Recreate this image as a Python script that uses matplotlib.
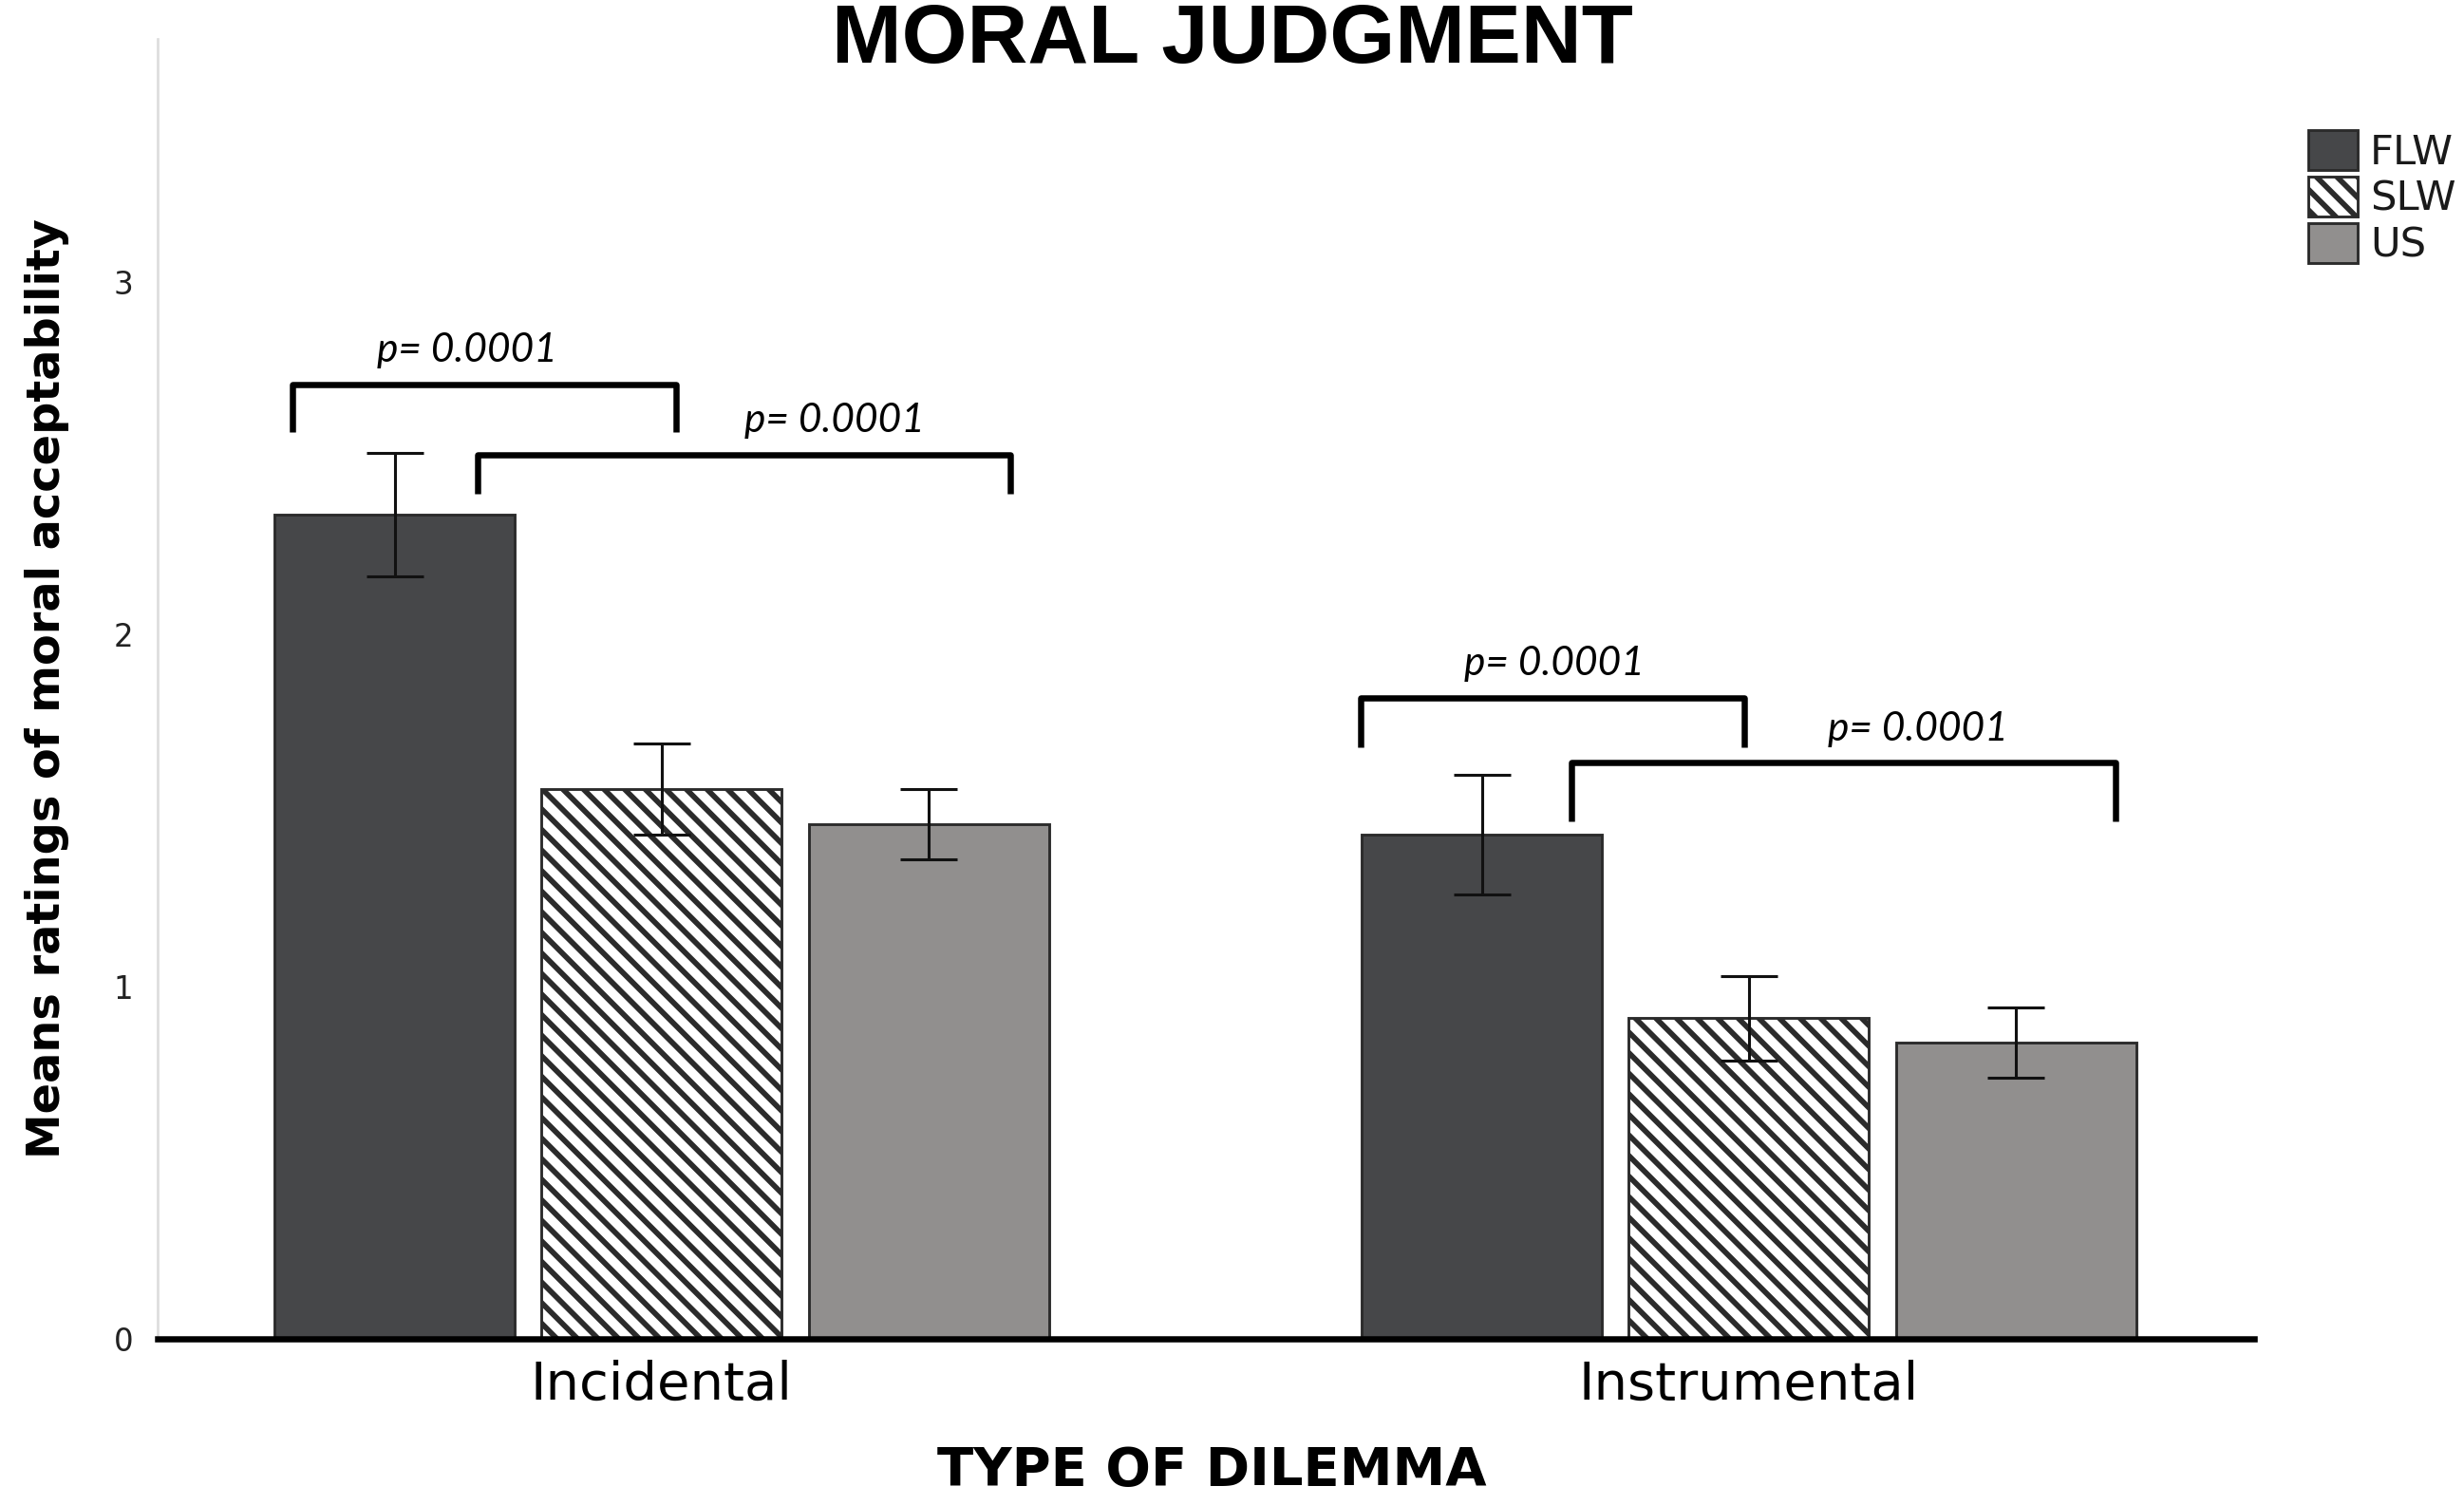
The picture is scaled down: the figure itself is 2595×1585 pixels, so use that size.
import matplotlib
matplotlib.use("Agg")
import matplotlib.pyplot as plt
import numpy as np
from matplotlib import font_manager
from matplotlib.patches import Patch

# data
categories = ["Incidental", "Instrumental"]
groups = ["FLW", "SLW", "US"]
flw_means = [2.34, 1.43]
slw_means = [1.56, 0.91]
us_means = [1.46, 0.84]
flw_err = [0.175, 0.17]
slw_err = [0.13, 0.12]
us_err = [0.10, 0.10]

# significance brackets: (x_start, x_end, y_top, leg, label x, label)
brackets = [
    (-0.34, 0.013, 2.71, 0.135, -0.179, "p= 0.0001"),
    (-0.169, 0.321, 2.51, 0.11, 0.159, "p= 0.0001"),
    (0.643, 0.996, 1.82, 0.14, 0.821, "p= 0.0001"),
    (0.837, 1.337, 1.635, 0.165, 1.155, "p= 0.0001"),
]

# look for a narrow/condensed face for the axis titles, if one is installed
narrow = None
for f in font_manager.fontManager.ttflist:
    n = f.name.lower()
    if ("narrow" in n or "condensed" in n or f.stretch == "condensed"
            or f.stretch == 625):
        narrow = f.name
        break
label_family = [narrow, "DejaVu Sans"] if narrow else ["DejaVu Sans"]

plt.rcParams["hatch.linewidth"] = 3.2

fig = plt.figure(figsize=(2595 / 130, 1585 / 130), dpi=130)
ax = fig.add_axes([0.0638, 0.1106, 0.8512, 0.8634])

x = np.arange(len(categories))
step = 0.2457
width = 0.221
colors = ["#464749", "white", "#918f8e"]
hatches = [None, "\\\\", None]
means = [flw_means, slw_means, us_means]
errs = [flw_err, slw_err, us_err]

for i in range(3):
    pos = x + (i - 1) * step
    ax.bar(pos, means[i], width, color=colors[i], edgecolor="#2b2b2b",
           linewidth=1.6, hatch=hatches[i], zorder=2)
    ax.errorbar(pos, means[i], yerr=errs[i], fmt="none", ecolor="#111111",
                elinewidth=1.7, capsize=16.5, capthick=1.7, zorder=3)

for x0, x1, yt, leg, tx, lab in brackets:
    ax.plot([x0, x0, x1, x1], [yt - leg, yt, yt, yt - leg], color="black",
            lw=3.6, solid_joinstyle="round", solid_capstyle="butt", zorder=4)
    ax.text(tx, yt + 0.045, lab, ha="center", va="bottom",
            fontsize=23.5, style="italic", family=["Lato", "DejaVu Sans"])

ax.set_xlim(-0.464, 1.465)
ax.set_ylim(0, 3.69)
ax.set_yticks([0, 1, 2, 3])
ax.set_yticklabels(["0", "1", "2", "3"], fontsize=18, color="#222222")
ax.set_xticks(x)
ax.set_xticklabels(categories, fontsize=31, family=label_family)
ax.tick_params(axis="y", length=0, pad=14)
ax.tick_params(axis="x", length=0, pad=12)

for s in ["top", "right"]:
    ax.spines[s].set_visible(False)
ax.spines["left"].set_color("#dddddd")
ax.spines["left"].set_linewidth(1.5)
ax.spines["bottom"].set_color("black")
ax.spines["bottom"].set_linewidth(3.6)
ax.spines["bottom"].set_zorder(5)

ax.set_ylabel("Means ratings of moral acceptability", fontsize=26.5,
              fontweight="bold", family=label_family, labelpad=26)

fig.text(0.492, 0.013, "TYPE OF DILEMMA", ha="center", va="baseline",
         fontsize=31, fontweight="bold", family=label_family)

fig.text(0.5, 0.998, "MORAL JUDGMENT", ha="center", va="top", fontsize=49,
         fontweight="bold", family=["Liberation Sans", "DejaVu Sans"])

handles = [Patch(facecolor=colors[i], edgecolor="#2b2b2b", hatch=hatches[i],
                 linewidth=1.6) for i in range(3)]
fig.legend(handles, groups, loc="upper left", bbox_to_anchor=(0.9285, 0.927),
           frameon=False, fontsize=24, handlelength=1.2, handleheight=1.1,
           handletextpad=0.3, labelspacing=0.1, borderpad=0,
           labelcolor="#1a1a1a")

fig.savefig("out.png", dpi=130)
